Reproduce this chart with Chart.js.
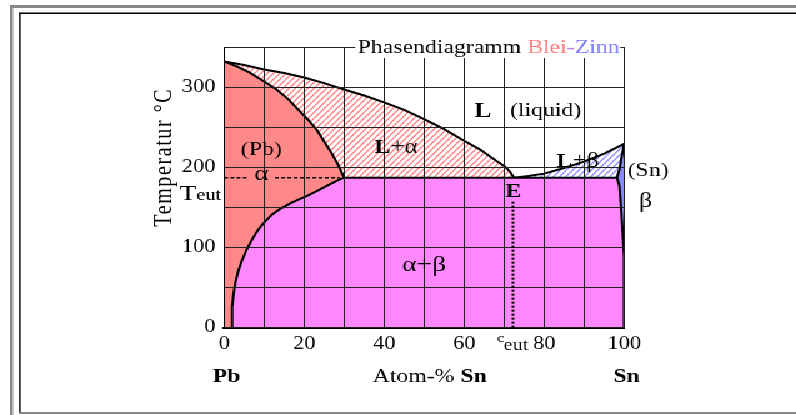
<!DOCTYPE html>
<html>
<head>
<meta charset="utf-8">
<title>Phasendiagramm Blei-Zinn</title>
<script src="https://cdn.jsdelivr.net/npm/chart.js@4.4.1/dist/chart.umd.min.js"></script>
<style>
  html, body { margin: 0; padding: 0; background: #fff; }
  #chart { position: absolute; left: 0; top: 0; image-rendering: pixelated; }
</style>
</head>
<body>
<!-- the original picture is stretched sideways, so the canvas is drawn narrow and widened by css -->
<canvas id="chart" width="637" height="415" style="width:796px;height:415px"></canvas>
<script>
// phase boundaries, as [atom-% Sn, temperature in °C]
var liquidusPb = [[0, 332], [5, 327.5], [10, 322], [15, 317.5], [20, 312], [25, 305], [30, 297], [35, 289.5], [40, 281], [45, 271.5], [50, 260], [55, 247.5], [60, 233], [64, 222], [68, 208], [70.2, 201], [71.5, 194], [72.5, 187]];
var solidusPb = [[0, 332], [3, 326], [6.4, 318], [10, 307], [13.1, 297], [16, 285], [18.1, 274], [21, 259], [23.1, 247], [25, 232], [26.8, 218], [28.5, 203], [30, 187]];
var solvusPb = [[1.8, 0], [1.9, 12], [2.05, 25], [2.3, 40], [2.8, 56], [3.5, 70], [4.4, 83], [5.6, 97], [7, 110], [8.5, 122], [10.2, 132], [12, 141], [14, 148], [17, 156], [20.6, 164], [23.5, 171], [26.5, 179], [28.5, 184], [30, 187]];
var liquidusSn = [[72.5, 187], [76, 189], [80, 192], [85, 199], [90, 207], [95, 217], [100, 229]];
var solidusSn = [[98.2, 187], [98.8, 197], [100, 229]];
var solvusSn = [[98.2, 187], [98.8, 177], [99.25, 149], [99.6, 121], [100, 89]];
var eutecticT = 187;
var eutecticX = 72.5;
var xTickLabels = [0, 20, 40, 60, 80, 100];
var yTickLabels = [0, 100, 200, 300];

var SERIF = "'Liberation Serif', 'Times New Roman', serif";

function pts(arr) {
  return arr.map(function (p) { return { x: p[0], y: p[1] }; });
}

// diagonal stripes like the L+alpha / L+beta areas
function hatch(color) {
  var c = document.createElement("canvas");
  c.width = 5;
  c.height = 6;
  var g = c.getContext("2d");
  g.strokeStyle = color;
  g.lineWidth = 1.2;
  g.beginPath();
  for (var k = -1; k <= 1; k++) {
    g.moveTo(k * 5 - 1, 7.2);
    g.lineTo(k * 5 + 6, -1.2);
  }
  g.stroke();
  return g.createPattern(c, "repeat");
}

// solvus left, eutectic line, solvus right, down the Sn side
var alphaBeta = solvusPb.concat(solvusSn, [[100, 0]]);

function drawRuns(ctx, runs, x, y, align) {
  var w = 0;
  runs.forEach(function (r) { ctx.font = r[1]; w += ctx.measureText(r[0]).width; });
  var cx = align === "right" ? x - w : align === "left" ? x : x - w / 2;
  ctx.textAlign = "left";
  runs.forEach(function (r) {
    ctx.font = r[1];
    ctx.fillStyle = r[2] || "#000";
    ctx.fillText(r[0], cx, y);
    cx += ctx.measureText(r[0]).width;
  });
}

var frame = {
  id: "frame",
  beforeDraw: function (chart) {
    var ctx = chart.ctx;
    ctx.save();
    ctx.fillStyle = "#888";
    ctx.fillRect(8, 5, 637, 3);
    ctx.fillRect(8, 5, 2.5, 415);
    ctx.fillRect(15.5, 412, 637, 2);
    ctx.fillStyle = "#000";
    ctx.fillRect(15.5, 12.5, 637, 1.5);
    ctx.fillRect(15.2, 12.5, 1.4, 400);
    ctx.restore();
  },
  afterDraw: function (chart) {
    var ctx = chart.ctx;
    var xs = chart.scales.x, ys = chart.scales.y;
    function px(v) { return xs.getPixelForValue(v); }
    function py(v) { return ys.getPixelForValue(v); }
    ctx.save();

    // title sits on the top frame line
    var titleRuns = [["Phasendiagramm ", "19px " + SERIF, "#000"], ["Blei", "19px " + SERIF, "#ff8080"], ["-", "19px " + SERIF, "#c080e0"], ["Zinn", "19px " + SERIF, "#8080ff"]];
    var tw = 0;
    titleRuns.forEach(function (r) { ctx.font = r[1]; tw += ctx.measureText(r[0]).width; });
    var tx = px(33.4), tb = 53;
    ctx.fillStyle = "#fff";
    ctx.fillRect(tx - 2, tb - 18, tw + 2.5, 23);
    ctx.textBaseline = "alphabetic";
    drawRuns(ctx, titleRuns, tx, tb, "left");

    // dotted eutectic line in the alpha field and the vertical at c_eut
    ctx.strokeStyle = "#000";
    ctx.lineWidth = 1.5;
    ctx.setLineDash([3, 2]);
    ctx.beginPath();
    ctx.moveTo(px(0), py(eutecticT));
    ctx.lineTo(px(5.9), py(eutecticT));
    ctx.moveTo(px(12.7), py(eutecticT));
    ctx.lineTo(px(28.9), py(eutecticT));
    ctx.stroke();
    ctx.lineWidth = 2;
    ctx.setLineDash([2, 2]);
    ctx.beginPath();
    ctx.moveTo(px(eutecticX - 0.3), py(157));
    ctx.lineTo(px(eutecticX - 0.3), py(0));
    ctx.stroke();
    ctx.setLineDash([]);

    ctx.textBaseline = "middle";
    drawRuns(ctx, [["L", "bold 20px " + SERIF]], px(64.7), py(269));
    drawRuns(ctx, [["(liquid)", "19px " + SERIF]], px(80.4), py(270));
    drawRuns(ctx, [["L", "bold 19px " + SERIF], ["+\u03b1", "20px " + SERIF]], px(43), py(224));
    drawRuns(ctx, [["(Pb)", "19px " + SERIF]], px(9.3), py(222));
    drawRuns(ctx, [["\u03b1", "22px " + SERIF]], px(9.3), py(191));
    drawRuns(ctx, [["E", "bold 19px " + SERIF]], px(72.3), py(168.5));
    drawRuns(ctx, [["L", "bold 19px " + SERIF], ["+\u03b2", "20px " + SERIF]], px(88.4), py(207));
    drawRuns(ctx, [["(Sn)", "19px " + SERIF]], px(106), py(195));
    drawRuns(ctx, [["\u03b2", "21px " + SERIF]], px(105.4), py(157));
    drawRuns(ctx, [["\u03b1+\u03b2", "22px " + SERIF]], px(50), py(78));
    drawRuns(ctx, [["Pb", "bold 19px " + SERIF]], px(0.6), py(-62));
    drawRuns(ctx, [["Atom-% ", "19px " + SERIF], ["Sn", "bold 19px " + SERIF]], px(51.4), py(-62));
    drawRuns(ctx, [["Sn", "bold 19px " + SERIF]], px(100.6), py(-62));

    ctx.textBaseline = "alphabetic";
    drawRuns(ctx, [["T", "22px " + SERIF], ["eut", "16px " + SERIF]], px(-0.8), py(159.4), "right");
    drawRuns(ctx, [["c", "13px " + SERIF]], px(68.2), py(-17.8), "left");
    drawRuns(ctx, [["eut", "16px " + SERIF]], px(69.9), py(-28), "left");

    // axis title
    ctx.translate(px(-15), py(212.5));
    ctx.rotate(-Math.PI / 2);
    ctx.textBaseline = "middle";
    ctx.letterSpacing = "1.6px";
    drawRuns(ctx, [["Temperatur \u00b0C", "20px " + SERIF]], 0, 0);
    ctx.restore();
  }
};

var ctx = document.getElementById("chart");
var phaseChart = new Chart(ctx, {
  type: "line",
  data: {
    datasets: [
      { data: pts(alphaBeta), backgroundColor: "#ff88ff", fill: "origin", order: 1 },
      { data: pts(solidusSn), backgroundColor: "#8888ff", fill: "origin", order: 2 },
      { data: pts(solidusPb), backgroundColor: "#ff8888", fill: "origin", order: 3 },
      { data: pts(liquidusSn), backgroundColor: hatch("#8c8cff"), fill: "origin", order: 4 },
      { data: pts(liquidusPb), backgroundColor: hatch("#ff8080"), fill: "origin", order: 5 },
    ],
  },
  options: {
    responsive: false,
    devicePixelRatio: 1,
    animation: false,
    events: [],
    layout: {
      padding: { left: 139.4, right: 137.6, top: 47, bottom: 47.5 },
    },
    elements: {
      line: { borderColor: "#000", borderWidth: 2, tension: 0 },
      point: { radius: 0 },
    },
    plugins: {
      legend: { display: false },
      tooltip: { enabled: false },
      title: { display: false },
    },
    scales: {
      x: {
        type: "linear",
        min: 0,
        max: 100,
        afterFit: function (s) { s.height = 40; },
        grid: { color: "#222", lineWidth: 1, drawTicks: false, z: 1 },
        border: { color: "#000", width: 2, z: 1 },
        ticks: {
          stepSize: 10,
          padding: 6,
          color: "#000",
          autoSkip: false,
          maxRotation: 0,
          font: { family: SERIF, size: 18 },
          callback: function (v) { return xTickLabels.indexOf(v) >= 0 ? String(v) : ""; },
        },
      },
      y: {
        type: "linear",
        min: 0,
        max: 350,
        afterFit: function (s) { s.width = 40; },
        grid: { color: "#222", lineWidth: 1, drawTicks: false, z: 1 },
        border: { color: "#000", width: 1, z: 1 },
        ticks: {
          stepSize: 50,
          padding: 7,
          color: "#000",
          autoSkip: false,
          font: { family: SERIF, size: 18 },
          callback: function (v) { return yTickLabels.indexOf(v) >= 0 ? String(v) : ""; },
        },
      },
    },
  },
  plugins: [frame],
});
</script>
</body>
</html>
